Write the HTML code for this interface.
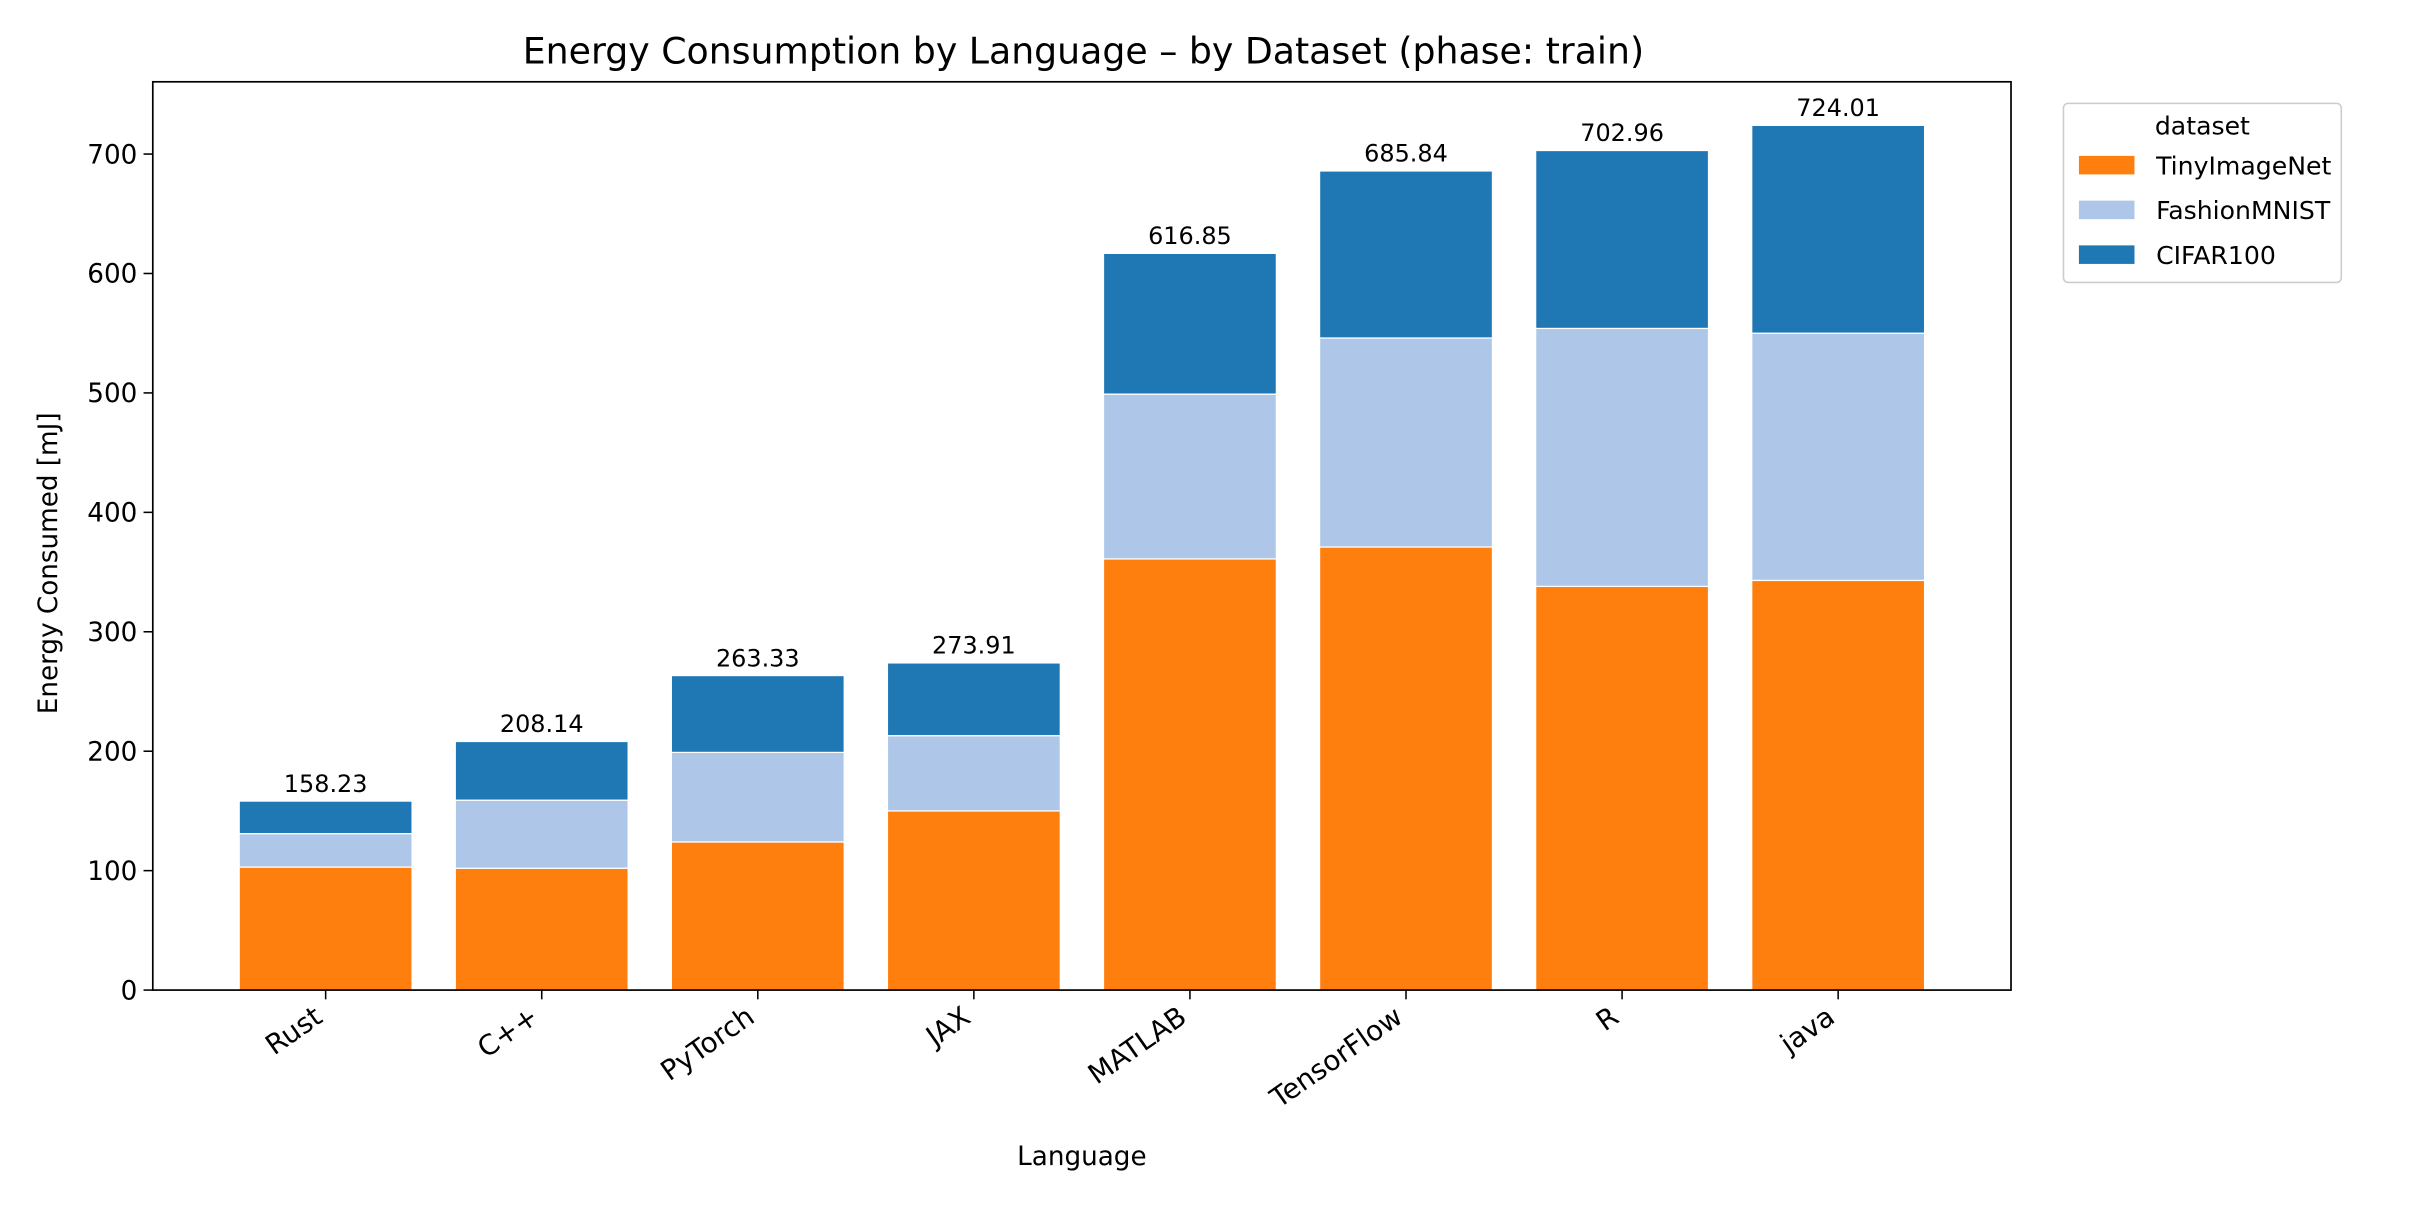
<!DOCTYPE html>
<html><head><meta charset="utf-8"><style>body{margin:0;background:#fff}svg{display:block;font-family:"DejaVu Sans","Liberation Sans",sans-serif}</style></head>
<body>
<svg id="chart" width="2420" height="1210" viewBox="0 0 1568 784" xmlns="http://www.w3.org/2000/svg">
<rect width="1568" height="784" fill="#fff"/>
<text x="702" y="41" font-size="23.5" text-anchor="middle">Energy Consumption by Language – by Dataset (phase: train)</text>
<g id="plot"></g>
<rect x="99" y="53" width="1204" height="588.5" fill="none" stroke="#000" stroke-width="1.1"/>
<text transform="translate(37,365) rotate(-90)" font-size="17" text-anchor="middle">Energy Consumed [mJ]</text>
<text x="701" y="755" font-size="17" text-anchor="middle">Language</text>
<g>
<rect x="1337" y="67" width="180" height="116" rx="3" fill="#fff" stroke="#ccc"/>
<text x="1427" y="87" font-size="16.3" text-anchor="middle">dataset</text>
<rect x="1347" y="101" width="36" height="12" fill="#ff7f0e"/>
<text x="1397" y="113" font-size="16.3">TinyImageNet</text>
<rect x="1347" y="130" width="36" height="12" fill="#aec7e8"/>
<text x="1397" y="142" font-size="16.3">FashionMNIST</text>
<rect x="1347" y="159" width="36" height="12" fill="#1f77b4"/>
<text x="1397" y="171" font-size="16.3">CIFAR100</text>
</g>
</svg>
<script>
const categories = ["Rust","C++","PyTorch","JAX","MATLAB","TensorFlow","R","java"];
const tiny = [103, 102, 124, 150, 361, 371, 338, 343];
const fashion = [28, 57, 75, 63, 138, 175, 216, 207];
const totals = [158.23, 208.14, 263.33, 273.91, 616.85, 685.84, 702.96, 724.01];
const yTicks = [0,100,200,300,400,500,600,700];
const NS="http://www.w3.org/2000/svg";
const g=document.getElementById('plot');
const L=99,R=1303,T=53,B=641.5,yMax=760.5;
const y=v=>B-(v/yMax)*(B-T);
const step=(R-L-2*112)/(categories.length-1);
const x=i=>L+112+step*i;
const bw=step*0.8;
function mk(t,a){const e=document.createElementNS(NS,t);for(const k in a)e.setAttribute(k,a[k]);g.appendChild(e);return e;}
yTicks.forEach(v=>{
  const l=mk('line',{x1:L-6,x2:L,y1:y(v),y2:y(v),stroke:'#000'});
  
  
  const t=mk('text',{x:L-10,y:y(v)+6,'font-size':17,'text-anchor':'end'});
  t.textContent=v;
  
  
});
categories.forEach((c,i)=>{
  const cx=x(i);
  const segs=[[0,tiny[i],'#ff7f0e','tinyimagenet'],[tiny[i],tiny[i]+fashion[i],'#aec7e8','fashionmnist'],[tiny[i]+fashion[i],totals[i],'#1f77b4','cifar100']];
  segs.forEach(s=>{
    const r=mk('rect',{x:cx-bw/2,y:y(s[1]),width:bw,height:y(s[0])-y(s[1]),fill:s[2],stroke:'#fff','stroke-width':0.8});
    
    
  });
  const lab=mk('text',{x:cx,y:y(totals[i])-6,'font-size':15.5,'text-anchor':'middle'});
  lab.textContent=totals[i].toFixed(2);
  
  
  const tk=mk('line',{x1:cx,x2:cx,y1:B,y2:B+6,stroke:'#000'});
  
  
  const xt=mk('text',{transform:`translate(${cx-1},${B+20}) rotate(-35)`,'font-size':18,'text-anchor':'end'});
  xt.textContent=c;
  
  
});
</script>
</body></html>
